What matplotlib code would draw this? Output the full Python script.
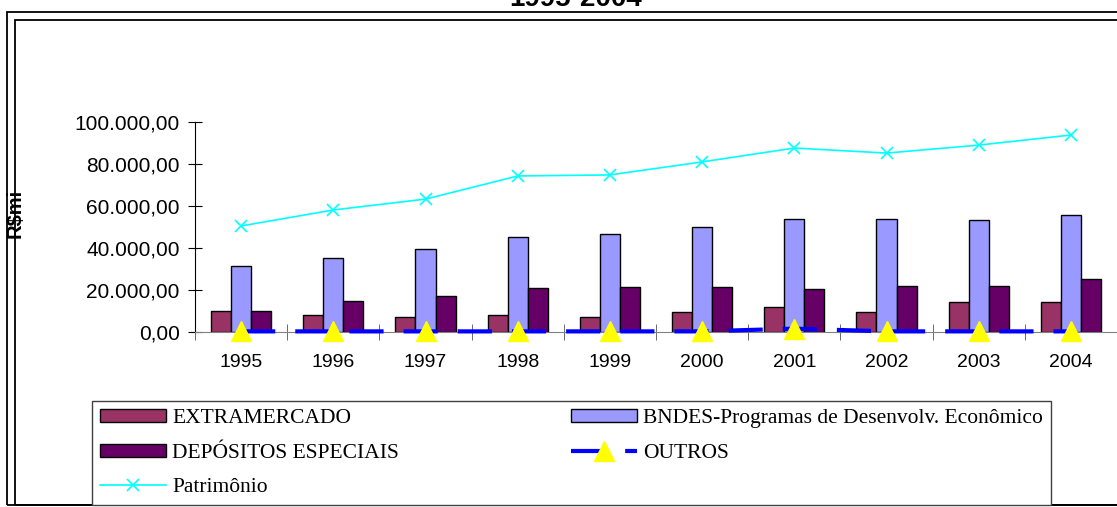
import numpy as np
import matplotlib.pyplot as plt
from matplotlib.patches import Rectangle
from matplotlib.ticker import FuncFormatter

anos = ['1995', '1996', '1997', '1998', '1999', '2000', '2001', '2002', '2003', '2004']
extramercado = [10100, 7900, 7000, 7900, 7000, 9500, 11800, 9500, 14300, 14300]
bndes = [31600, 35400, 39500, 45200, 46700, 50000, 53800, 53800, 53300, 55700]
depositos = [10100, 14800, 17300, 21100, 21300, 21300, 20500, 21900, 21900, 25100]
outros = [300, 300, 300, 300, 300, 300, 1600, 300, 300, 300]
patrimonio = [50500, 58100, 63300, 74300, 74800, 81000, 87600, 85200, 89000, 93800]

W, H = 1117, 507
fig = plt.figure(figsize=(W / 100, H / 100), dpi=100)

# double frame around the chart
for x0, y0 in [(7, 12), (15, 20)]:
    fig.patches.append(Rectangle((x0 / W, 1 - 505 / H), (W + 20 - x0) / W, (505 - y0) / H,
                                 transform=fig.transFigure, fill=False,
                                 edgecolor='black', linewidth=1.3))

fig.text(576 / W, 1 - 6 / H, '1995-2004', ha='center', va='baseline',
         fontsize=20, fontweight='bold', family='Liberation Sans')

ax = fig.add_axes([195 / W, 1 - 332 / H, 922 / W, 210 / H])
x = np.arange(len(anos))
bw = 0.217

ax.bar(x - bw, extramercado, bw, color='#993366', edgecolor='black', linewidth=1, label='EXTRAMERCADO')
ax.bar(x, bndes, bw, color='#9999FF', edgecolor='black', linewidth=1,
       label='BNDES-Programas de Desenvolv. Econômico')
ax.bar(x + bw, depositos, bw, color='#660066', edgecolor='black', linewidth=1, label='DEPÓSITOS ESPECIAIS')
ax.plot(x, outros, color='#0000FF', linewidth=3, dashes=(8.2, 4.8), marker='^',
        markersize=15, markerfacecolor='#FFFF00', markeredgecolor='#FFFF00',
        clip_on=False, zorder=5, label='OUTROS')
ax.plot(x, patrimonio, color='#00FFFF', linewidth=1.2, marker='x', markersize=8,
        markeredgewidth=1.2, clip_on=False, zorder=6, label='Patrimônio')

ax.set_xlim(-0.5, 9.5)
ax.set_ylim(0, 100000)
ax.set_yticks(np.arange(0, 100001, 20000))
ax.yaxis.set_major_formatter(FuncFormatter(
    lambda v, p: '{:,.2f}'.format(v).replace(',', 'X').replace('.', ',').replace('X', '.')))
ax.set_xticks(x)
ax.set_xticklabels(anos)
ax.set_xticks(np.arange(-0.5, 10, 1), minor=True)
ax.tick_params(axis='x', which='major', length=0, pad=16)
ax.tick_params(axis='x', which='minor', length=12, direction='inout', color='#555555')
ax.tick_params(axis='y', length=10, direction='inout', pad=6)
for lab in ax.get_xticklabels():
    lab.set_fontsize(14)
    lab.set_family('Liberation Sans')
for lab in ax.get_yticklabels():
    lab.set_fontsize(15)
    lab.set_family('Liberation Sans')

ax.spines['top'].set_visible(False)
ax.spines['right'].set_visible(False)
ax.spines['bottom'].set_color('#808080')
ax.set_facecolor('none')

fig.text(15.5 / W, 1 - 213 / H, 'R$mi', rotation=90, ha='center', va='center',
         fontsize=14.5, fontweight='bold', family='Liberation Sans')

handles, labels = ax.get_legend_handles_labels()
order = ['EXTRAMERCADO', 'DEPÓSITOS ESPECIAIS', 'Patrimônio',
         'BNDES-Programas de Desenvolv. Econômico', 'OUTROS']
hmap = dict(zip(labels, handles))
leg = fig.legend([hmap[k] for k in order], order, loc='upper left',
                 bbox_to_anchor=(92 / W, 0.0, 959 / W, 1 - 401 / H), mode='expand',
                 ncol=2, borderaxespad=0, fancybox=False, framealpha=1,
                 prop={'family': 'Liberation Serif', 'size': 15.5},
                 handlelength=3.07, handleheight=0.55, handletextpad=0.28,
                 labelspacing=0.72, borderpad=0.37)
leg.get_frame().set_edgecolor('#404040')
leg.get_frame().set_linewidth(1)

fig.savefig('out.png', dpi=100)
